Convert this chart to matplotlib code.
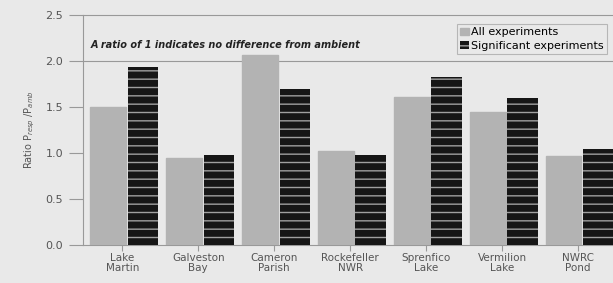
import matplotlib
matplotlib.use("Agg")
import matplotlib.pyplot as plt
import numpy as np

# data
sites = ["Lake\nMartin", "Galveston\nBay", "Cameron\nParish", "Rockefeller\nNWR",
         "Sprenfico\nLake", "Vermilion\nLake", "NWRC\nPond"]
all_exp = [1.50, 0.95, 2.06, 1.02, 1.61, 1.45, 0.97]
sig_exp = [1.93, 0.98, 1.70, 0.98, 1.83, 1.60, 1.04]

bg = "#e9e9e9"
plt.rcParams['hatch.linewidth'] = 1.0
fig = plt.figure(figsize=(6.13, 2.83), dpi=100, facecolor=bg)
ax = fig.add_axes([0.135, 0.134, 0.865, 0.813], facecolor=bg)

x = np.arange(len(sites))
ax.bar(x - 0.24, all_exp, width=0.47, color="#b3b3b3", edgecolor="#b3b3b3",
       label="All experiments", zorder=3)
ax.bar(x + 0.22, sig_exp, width=0.40, color="#161616", edgecolor="#a0a0a0",
       hatch="--", linewidth=0, label="Significant experiments", zorder=3)

ax.set_xlim(-0.57, 6.41)
ax.set_ylim(0, 2.5)
ax.set_yticks([0, 0.5, 1.0, 1.5, 2.0, 2.5])
ax.set_yticklabels(["0.0", "0.5", "1.0", "1.5", "2.0", "2.5"])
ax.set_xticks(x - 0.05)
ax.set_xticklabels(sites, fontsize=7.5, color="#555555", linespacing=0.9)
ax.tick_params(axis="y", labelsize=8, colors="#555555", length=10, color="#999999", pad=4)
ax.tick_params(axis="x", length=4, color="#999999", pad=2)
ax.axhline(2.0, color="#999999", lw=0.8, zorder=1)
ax.spines["right"].set_visible(False)
for s in ["left", "bottom", "top"]:
    ax.spines[s].set_color("#999999")
    ax.spines[s].set_linewidth(0.8)

ax.set_ylabel(r"Ratio P$_{resp}$ /P$_{amb}$", fontsize=7, color="#555555", labelpad=6)
ax.text(0.015, 0.855, "A ratio of 1 indicates no difference from ambient",
        transform=ax.transAxes, fontsize=7, style="italic", weight="bold",
        color="#222222")

leg = ax.legend(loc="upper right", bbox_to_anchor=(1.0, 0.985), fontsize=8,
                frameon=True, fancybox=False, facecolor=bg, edgecolor="#aaaaaa",
                handlelength=0.8, handleheight=0.7, handletextpad=0.2,
                borderpad=0.3, labelspacing=0.3)
leg.get_frame().set_linewidth(0.8)

fig.savefig("out.png", dpi=100, facecolor=bg)
